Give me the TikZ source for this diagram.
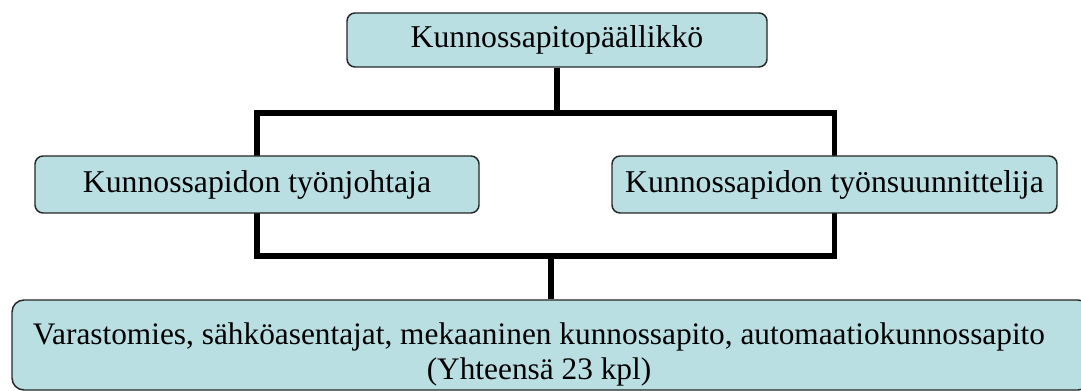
\documentclass[tikz,border=0pt]{standalone}
\usepackage{fontspec}
\setmainfont{Liberation Serif}
\newfontfamily\orgfont{Liberation Serif}
\usetikzlibrary{backgrounds}

\definecolor{boxfill}{RGB}{186,223,227}
\tikzset{every picture/.style={line width=0.75pt}}
\tikzset{
  orgbox/.style={draw=black!85, line width=1.1pt, fill=boxfill, rounded corners=6pt,
    inner sep=0pt, align=center, font=\orgfont\fontsize{23.8}{26.25}\selectfont},
  bar/.style={line width=4.2pt, draw=black}
}

\begin{document}
\begin{tikzpicture}[x=0.75pt,y=0.75pt,yscale=-1,xscale=1]
  \useasboundingbox (0,0) rectangle (1081,391);

  %Boxes
  \node[orgbox, minimum width=315pt, minimum height=40.5pt] (boss) at (557,40) {Kunnossapitopäällikkö};
  \node[orgbox, minimum width=333pt, minimum height=42.75pt] (lead) at (257,184.5) {Kunnossapidon työnjohtaja};
  \node[orgbox, minimum width=333.75pt, minimum height=42.75pt] (planner) at (834.5,184.5) {Kunnossapidon työnsuunnittelija};
  \node[orgbox, rounded corners=9pt, minimum width=808.5pt, minimum height=67.5pt,
    font=\orgfont\fontsize{23.5}{26.25}\selectfont] (staff) at (551,345)
    {\rule{0pt}{31pt}Varastomies, sähköasentajat, mekaaninen kunnossapito, automaatiokunnossapito\kern18pt\\(Yhteensä 23 kpl)\kern18pt};

  %Connectors, behind the boxes
  \coordinate (top) at (557,113);
  \coordinate (bot) at (551,256);
  \begin{pgfonlayer}{background}
    \draw[bar] (boss.south) -- (top);
    \draw[bar] (lead.center |- top) -- (planner.center |- top) -- (planner.center |- bot) -- (lead.center |- bot) -- cycle;
    \draw[bar] (bot) -- (staff.north);
  \end{pgfonlayer}
\end{tikzpicture}
\end{document}
